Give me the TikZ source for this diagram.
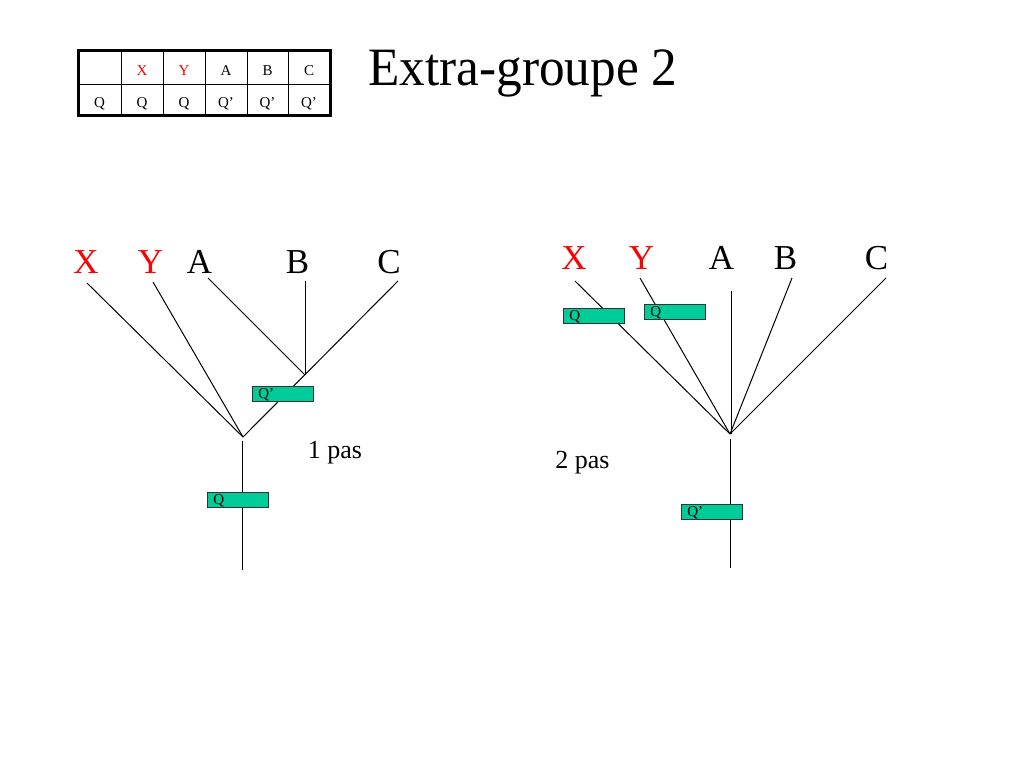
\documentclass[tikz,border=0pt]{standalone}
\usepackage{fontspec}
\setmainfont{Liberation Serif}
\definecolor{boxgreen}{RGB}{0,204,153}
\definecolor{xyred}{RGB}{255,0,0}
\tikzset{
  lbl/.style={inner sep=0pt, anchor=base, font=\fontsize{35}{40}\selectfont},
  redlbl/.style={lbl, text=xyred},
  tcell/.style={inner sep=0pt, anchor=base, font=\fontsize{15}{18}\selectfont},
  pasl/.style={inner sep=0pt, anchor=base, font=\fontsize{26}{30}\selectfont},
  edge/.style={draw=black, line width=1pt},
  qbox/.style={draw=black!80, line width=0.8pt, fill=boxgreen, rectangle, anchor=north west,
    minimum width=61pt, minimum height=15pt, inner ysep=0pt, inner xsep=6pt,
    text width=49pt, align=left, font=\fontsize{15}{15}\selectfont,
    text height=10.5pt, text depth=2pt}
}
\begin{document}
\begin{tikzpicture}[x=1pt, y=-1pt]
\useasboundingbox (0,0) rectangle (1024,768);
\fill[white] (0,0) rectangle (1024,768);

% title
\node[inner sep=0pt, anchor=base west, font=\fontsize{54}{60}\selectfont] (title) at (368,85) {\scalebox{0.95}[1]{Extra-groupe 2}};

% table
\draw[line width=1pt] (78,84) -- (330,84);
\foreach \xx in {121,163,205,247,288} { \draw[line width=1pt] (\xx,51) -- (\xx,115); }
\draw[line width=3pt] (78,51) rectangle (330,115);
\node[tcell, text=xyred] (tX) at (142,75.5) {X};
\node[tcell, text=xyred] (tY) at (184,75.5) {Y};
\node[tcell] (tA) at (226,75.5) {A};
\node[tcell] (tB) at (267.5,75.5) {B};
\node[tcell] (tC) at (309,75.5) {C};
\node[tcell] (t0) at (99.5,107.5) {Q};
\node[tcell] (t1) at (142,107.5) {Q};
\node[tcell] (t2) at (184,107.5) {Q};
\node[tcell] (t3) at (226,107.5) {Q’};
\node[tcell] (t4) at (267.5,107.5) {Q’};
\node[tcell] (t5) at (309,107.5) {Q’};

% ---------- left tree ----------
\node[redlbl] (LX) at (86,273) {X};
\node[redlbl] (LY) at (150.5,273) {Y};
\node[lbl] (LA) at (199.5,273) {A};
\node[lbl] (LB) at (297.5,273) {B};
\node[lbl] (LC) at (389,273) {C};

\coordinate (lxt) at (87,283);
\coordinate (lyt) at (153,282);
\coordinate (lat) at (208,278);
\coordinate (lbt) at (305,281);
\coordinate (lct) at (398,281);
\coordinate (lsub) at (305,375);
\coordinate (lj) at (243,437);
\coordinate (lst) at (242,441);
\coordinate (lsb) at (242,570);

\draw[edge] (lxt) -- (lj);
\draw[edge] (lyt) -- (lj);
\draw[edge] (lat) -- (lsub);
\draw[edge] (lbt) -- (lsub);
\draw[edge] (lct) -- (lj);
\draw[edge] (lst) -- (lsb);

\node[qbox] (lq1) at (252,386) {Q’};
\node[qbox] (lq2) at (207,492) {Q};
\node[pasl] (pas1) at (335,458) {1 pas};

% ---------- right tree ----------
\node[redlbl] (RX) at (574,269) {X};
\node[redlbl] (RY) at (641.5,269) {Y};
\node[lbl] (RA) at (721.5,269) {A};
\node[lbl] (RB) at (785.5,269) {B};
\node[lbl] (RC) at (876.5,269) {C};

\coordinate (rxt) at (575,281);
\coordinate (ryt) at (640,278);
\coordinate (rat) at (731,291);
\coordinate (rab) at (731,434);
\coordinate (rbt) at (792,278);
\coordinate (rct) at (886,278);
\coordinate (rj) at (730,434);
\coordinate (rst) at (730,439);
\coordinate (rsb) at (730,568);

\draw[edge] (rxt) -- (rj);
\draw[edge] (ryt) -- (rj);
\draw[edge] (rat) -- (rab);
\draw[edge] (rbt) -- (rj);
\draw[edge] (rct) -- (rj);
\draw[edge] (rst) -- (rsb);

\node[qbox] (rq1) at (563,308) {Q};
\node[qbox] (rq2) at (644,304) {Q};
\node[qbox] (rq3) at (681,504) {Q’};
\node[pasl] (pas2) at (582.5,468) {2 pas};
\end{tikzpicture}
\end{document}
